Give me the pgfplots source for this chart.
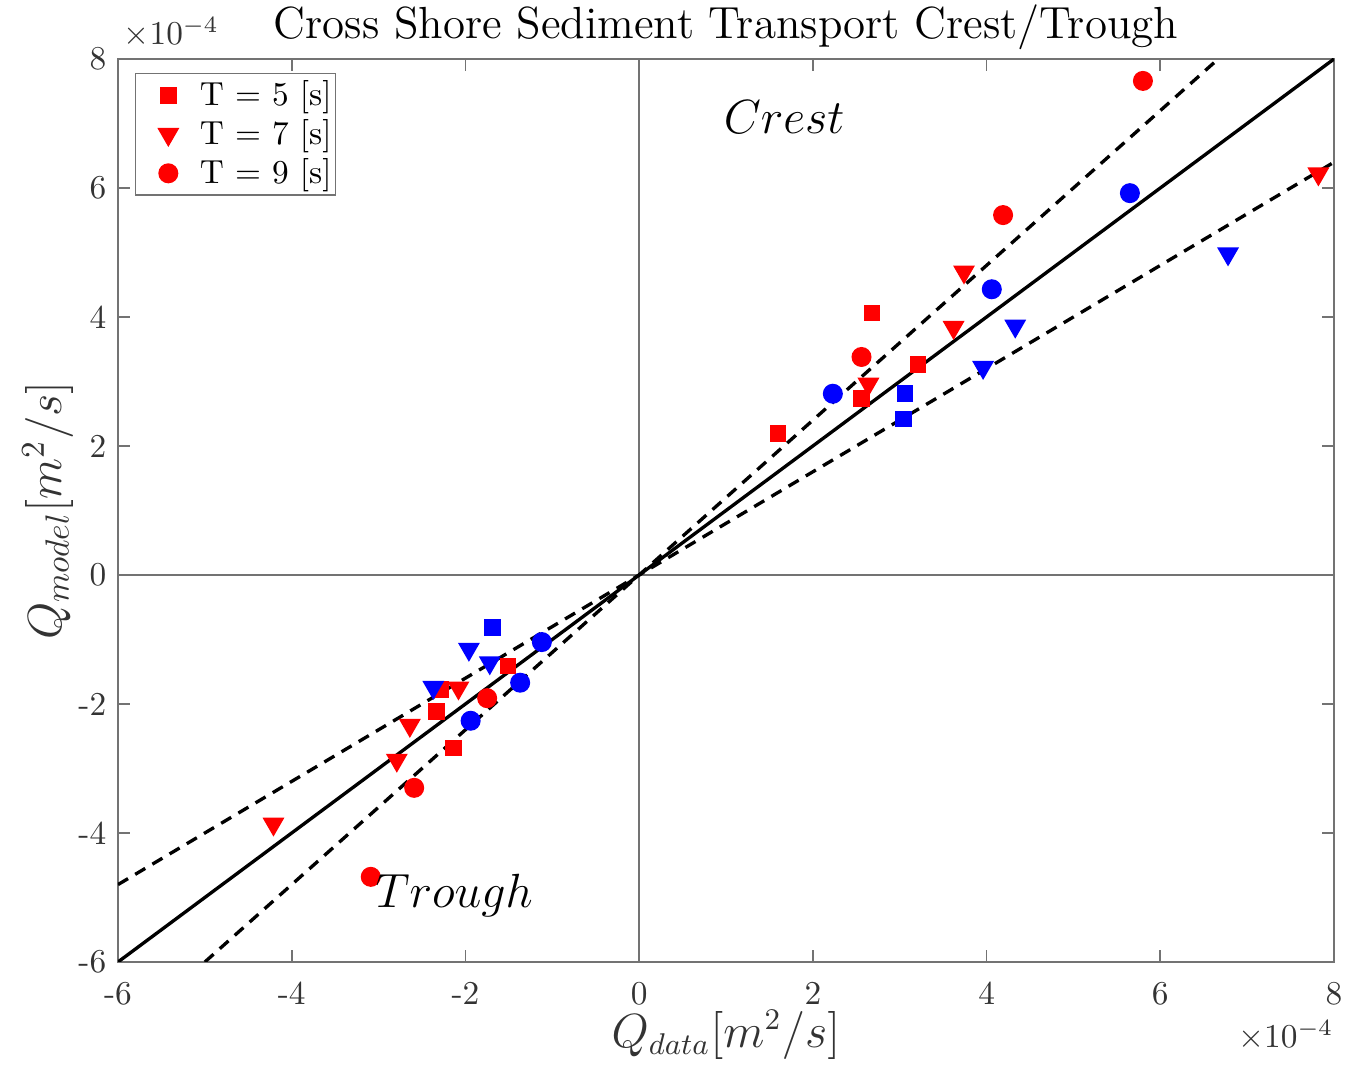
\documentclass[border=0pt]{standalone}
\usepackage{pgfplots}
\pgfplotsset{compat=1.18}
\definecolor{mred}{rgb}{1,0,0}
\definecolor{mblue}{rgb}{0,0,1}
\definecolor{axgray}{gray}{0.45}
\begin{document}
\begin{tikzpicture}
\begin{axis}[
  scale only axis,
  width=364.8pt, height=270.9pt,
  xmin=-6, xmax=8, ymin=-6, ymax=8,
  clip mode=individual,
  xtick={-6,-4,-2,0,2,4,6,8},
  ytick={-6,-4,-2,0,2,4,6,8},
  xticklabels={-6,-4,-2,0,2,4,6,8},
  yticklabels={-6,-4,-2,0,2,4,6,8},
  axis line style={axgray, line width=0.5pt},
  tick style={axgray, line width=0.5pt},
  tick align=inside,
  major tick length=3.5pt,
  ticklabel style={font=\normalsize, text=black!80},
  xticklabel style={anchor=base, yshift=-12.9pt, inner sep=0pt},
  legend style={at={(0,1)}, anchor=north west, xshift=5.1pt, yshift=-4.2pt,
    draw=axgray, font=\normalsize, row sep=2.7pt, inner xsep=1.2pt, inner ysep=2pt,
    column sep=4.9pt, nodes={inner sep=0pt}},
  legend image code/.code={\path (0pt,0pt) (12.8pt,0pt); \draw[#1, mark repeat=1, mark phase=1] plot coordinates {(8.4pt,0pt)};},
  legend cell align=left,
]
% zero lines
\addplot[forget plot, axgray, line width=0.4pt] coordinates {(0,-6) (0,8)};
\addplot[forget plot, axgray, line width=0.4pt] coordinates {(-6,0) (8,0)};
% reference lines
\addplot[forget plot, black, line width=1pt] coordinates {(-6,-6) (8,8)};
\addplot[forget plot, black, line width=1pt, dash pattern=on 3.5pt off 2.5pt] coordinates {(-5,-6) (6.6667,8)};
\addplot[forget plot, black, line width=1pt, dash pattern=on 3.5pt off 2.5pt] coordinates {(-6,-4.8) (8,6.4)};
% red series (legend)
\addplot[only marks, mark=square*, mark size=2.3pt, mred, mark options={draw=mred, fill=mred}] coordinates {
(2.68,4.06) (1.60,2.19) (2.56,2.74) (3.21,3.26) (-1.51,-1.41) (-2.29,-1.78) (-2.33,-2.12) (-2.14,-2.68)};
\addlegendentry{T = 5 [s]}
\addplot[only marks, mark=triangle*, mark size=3.4pt, mred, mark options={rotate=180, draw=mred, fill=mred}] coordinates {
(7.82,6.22) (3.74,4.70) (3.62,3.84) (2.64,2.96) (-2.08,-1.75) (-2.64,-2.33) (-2.79,-2.87) (-4.21,-3.86)};
\addlegendentry{T = 7 [s]}
\addplot[only marks, mark=*, mark size=2.8pt, mred, mark options={draw=mred, fill=mred}] coordinates {
(5.80,7.66) (4.19,5.58) (2.56,3.38) (-1.75,-1.91) (-2.59,-3.30) (-3.09,-4.68)};
\addlegendentry{T = 9 [s]}
% blue series
\addplot[forget plot, only marks, mark=square*, mark size=2.3pt, mblue, mark options={draw=mblue, fill=mblue}] coordinates {
(3.06,2.81) (3.04,2.42) (-1.69,-0.81)};
\addplot[forget plot, only marks, mark=triangle*, mark size=3.4pt, mblue, mark options={rotate=180, draw=mblue, fill=mblue}] coordinates {
(6.78,4.98) (4.33,3.86) (3.96,3.22) (-1.96,-1.15) (-1.72,-1.36) (-2.37,-1.74)};
\addplot[forget plot, only marks, mark=*, mark size=2.8pt, mblue, mark options={draw=mblue, fill=mblue}] coordinates {
(5.65,5.92) (4.06,4.43) (2.23,2.81) (-1.12,-1.04) (-1.37,-1.67) (-1.94,-2.26)};
% annotations
\node[anchor=base, font=\fontsize{14.2}{17}\selectfont] at (axis cs:1.67,6.85) {$Crest$};
\node[anchor=base, font=\fontsize{14.2}{17}\selectfont] at (axis cs:-2.13,-5.16) {$Trough$};
% title, labels, exponents
\node[anchor=base, font=\fontsize{13.5}{16}\selectfont, inner sep=0pt, yshift=6pt] at (rel axis cs:0.5,1) {Cross Shore Sediment Transport Crest/Trough};
\node[anchor=base, font=\fontsize{13.5}{16}\selectfont, text=black!80, inner sep=0pt, yshift=-25.6pt] at (rel axis cs:0.5,0) {$Q_{data}[m^2/s]$};
\node[xshift=-17pt, rotate=90, anchor=base, font=\fontsize{14}{17}\selectfont, text=black!80, inner sep=0pt] at (rel axis cs:0,0.5) {$Q_{model}[m^2/s]$};
\node[anchor=base west, font=\normalsize, text=black!80, inner sep=0pt, yshift=4.2pt, xshift=1.5pt] at (rel axis cs:0,1) {$\times10^{-4}$};
\node[anchor=base east, font=\normalsize, text=black!80, inner sep=0pt, yshift=-25.8pt] at (rel axis cs:1,0) {$\times10^{-4}$};
\end{axis}
\pgfresetboundingbox
\path[use as bounding box] (-35.4pt,-31.5pt) rectangle (369.6pt,288.6pt);
\end{tikzpicture}
\end{document}
